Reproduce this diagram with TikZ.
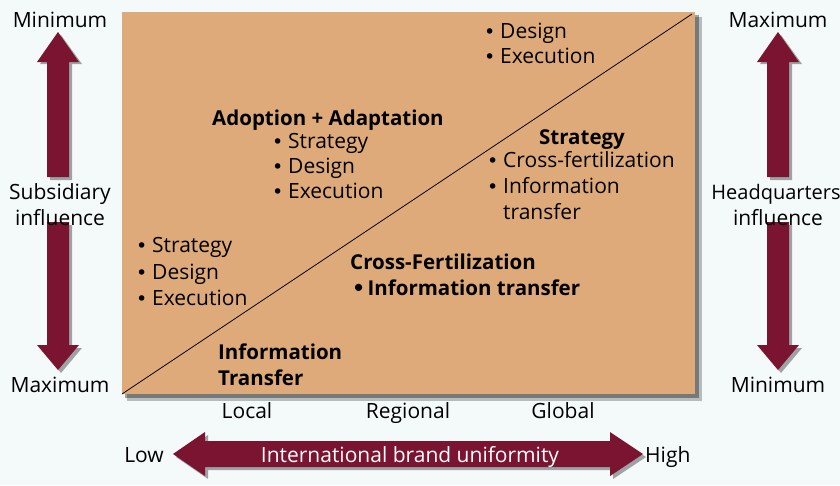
\documentclass[tikz,border=0pt]{standalone}
\usepackage{fontspec}
\setmainfont{Open Sans}
\newfontfamily\dv{DejaVu Sans}
\definecolor{bg}{RGB}{244,250,250}
\definecolor{boxfill}{RGB}{222,170,122}
\definecolor{maroon}{RGB}{122,20,48}
\newcommand{\bt}{{\dv •}}
\begin{document}
\begin{tikzpicture}[x=1pt,y=-1pt,
  every node/.style={inner sep=0pt},
  txt/.style={anchor=base west,font=\fontsize{21}{24}\selectfont},
  ctxt/.style={anchor=base,font=\fontsize{21}{24}\selectfont},
  btxt/.style={anchor=base west,font=\fontsize{20.5}{24}\selectfont\bfseries},
  cbtxt/.style={anchor=base,font=\fontsize{20.5}{24}\selectfont\bfseries},
  blockarrow/.style={fill=maroon},
  arrowshadow/.style={fill=black,opacity=0.35},
  bul/.style={anchor=base west,font=\fontsize{19}{24}\selectfont}]
\fill[bg] (0,0) rectangle (840,485);
\useasboundingbox (0,0) rectangle (840,485);
% box with shadow
\fill[black,opacity=0.25] (127,17) rectangle (702,401);
\fill[black,opacity=0.35] (125,15) rectangle (699,398);
\fill[boxfill] (122,12) rectangle (695,394);
\coordinate (dl) at (122,394);
\coordinate (dr) at (692,14);
\draw[line width=0.8pt] (dl) -- (dr);

% vertical arrows
\foreach \cx/\nm in {58/L,778/R}{
  \fill[arrowshadow] (\cx+3,35) -- (\cx+24,64) -- (\cx+14,64) -- (\cx+14,180) -- (\cx-8,180) -- (\cx-8,64) -- (\cx-18,64) -- cycle;
  \fill[blockarrow] (\cx,32) -- (\cx+21,62) -- (\cx+11,62) -- (\cx+11,177) -- (\cx-11,177) -- (\cx-11,62) -- (\cx-21,62) -- cycle;
  \fill[arrowshadow] (\cx+3,373) -- (\cx+24,348) -- (\cx+14,348) -- (\cx+14,225) -- (\cx-8,225) -- (\cx-8,348) -- (\cx-18,348) -- cycle;
  \fill[blockarrow] (\cx,370) -- (\cx+21,345) -- (\cx+11,345) -- (\cx+11,222) -- (\cx-11,222) -- (\cx-11,345) -- (\cx-21,345) -- cycle;
}
% horizontal arrow
\fill[arrowshadow] (176,457) -- (208,435) -- (208,444) -- (613,444) -- (613,435) -- (646,457) -- (613,479) -- (613,470) -- (208,470) -- (208,479) -- cycle;
\fill[blockarrow] (173,454) -- (205,432) -- (205,441) -- (610,441) -- (610,432) -- (643,454) -- (610,476) -- (610,467) -- (205,467) -- (205,476) -- cycle;
\node[ctxt,text=white] (iu) at (410,462) {International brand uniformity};
\node[txt,anchor=base east] (low) at (164,462) {Low};
\node[txt] (high) at (645,462) {High};

% axis labels
\node[ctxt] (lmin) at (60,27) {Minimum};
\node[ctxt] (lsub) at (60,199) {Subsidiary};
\node[ctxt] (linf) at (60,225) {influence};
\node[ctxt] (lmax) at (60,392) {Maximum};
\node[ctxt] (rmax) at (778,27) {Maximum};
\node[ctxt,font=\fontsize{20}{24}\selectfont] (rhq) at (776,199) {Headquarters};
\node[ctxt] (rinf) at (778,225) {influence};
\node[ctxt] (rmin) at (778,392) {Minimum};
\node[ctxt] (loc) at (247,418) {Local};
\node[ctxt] (reg) at (408,418) {Regional};
\node[ctxt] (glo) at (563,418) {Global};

% top right list
\node[bul] (b1) at (484,38) {\bt};
\node[txt] (t1) at (500,38) {Design};
\node[bul] (b2) at (484,63) {\bt};
\node[txt] (t2) at (500,63) {Execution};

% adoption + adaptation
\node[btxt] (aa) at (212,125) {Adoption + Adaptation};
\node[bul] (b3) at (272,148) {\bt};
\node[txt] (t3) at (288,148) {Strategy};
\node[bul] (b4) at (272,173) {\bt};
\node[txt] (t4) at (288,173) {Design};
\node[bul] (b5) at (272,198) {\bt};
\node[txt] (t5) at (288,198) {Execution};

% strategy
\node[cbtxt] (st) at (582,144) {Strategy};
\node[bul] (b6) at (487,167) {\bt};
\node[txt] (t6) at (503,167) {Cross-fertilization};
\node[bul] (b7) at (487,193) {\bt};
\node[txt] (t7) at (503,193) {Information};
\node[txt] (t8) at (503,219) {transfer};

% left list
\node[bul] (b9) at (136,252) {\bt};
\node[txt] (t9) at (152,252) {Strategy};
\node[bul] (b10) at (136,279) {\bt};
\node[txt] (t10) at (152,279) {Design};
\node[bul] (b11) at (136,305) {\bt};
\node[txt] (t11) at (152,305) {Execution};

% cross-fertilization
\node[btxt] (cf) at (350,269) {Cross-Fertilization};
\node[btxt] (cf2) at (352,295) {{\dv •}\hspace{-3pt} Information transfer};

% information transfer
\node[btxt] (it1) at (218,359) {Information};
\node[btxt] (it2) at (218,385) {Transfer};
\end{tikzpicture}
\end{document}
